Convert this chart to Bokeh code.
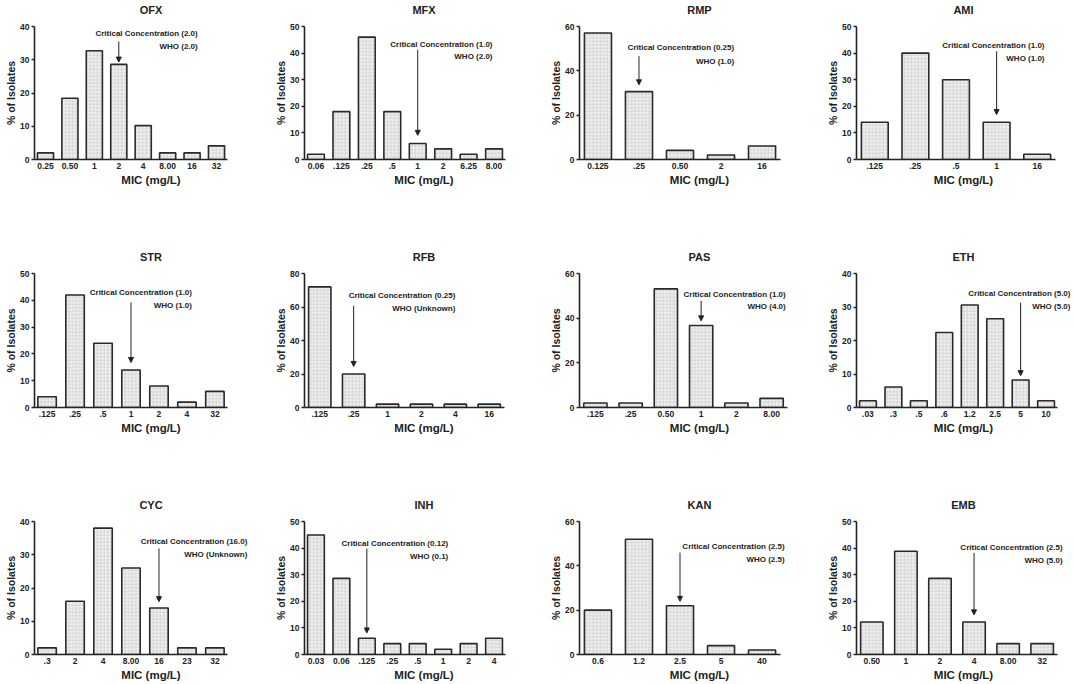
from bokeh.plotting import figure
from bokeh.layouts import column, row
from bokeh.models import Range1d, FixedTicker, Label, Arrow, NormalHead, LinearAxis
from bokeh.embed import file_html
from bokeh.resources import INLINE

# ---------------- data ----------------
ofx_mic = ["0.25", "0.50", "1", "2", "4", "8.00", "16", "32"]
ofx_pct = [2.0, 18.4, 32.7, 28.6, 10.2, 2.0, 2.0, 4.1]
mfx_mic = ["0.06", ".125", ".25", ".5", "1", "2", "6.25", "8.00"]
mfx_pct = [2.0, 18.0, 46.0, 18.0, 6.0, 4.0, 2.0, 4.0]
rmp_mic = ["0.125", ".25", "0.50", "2", "16"]
rmp_pct = [57.1, 30.6, 4.1, 2.0, 6.1]
ami_mic = [".125", ".25", ".5", "1", "16"]
ami_pct = [14.0, 40.0, 30.0, 14.0, 2.0]
str_mic = [".125", ".25", ".5", "1", "2", "4", "32"]
str_pct = [4.0, 42.0, 24.0, 14.0, 8.0, 2.0, 6.0]
rfb_mic = [".125", ".25", "1", "2", "4", "16"]
rfb_pct = [72.0, 20.0, 2.0, 2.0, 2.0, 2.0]
pas_mic = [".125", ".25", "0.50", "1", "2", "8.00"]
pas_pct = [2.0, 2.0, 53.1, 36.7, 2.0, 4.1]
eth_mic = [".03", ".3", ".5", ".6", "1.2", "2.5", "5", "10"]
eth_pct = [2.0, 6.1, 2.0, 22.4, 30.6, 26.5, 8.2, 2.0]
cyc_mic = [".3", "2", "4", "8.00", "16", "23", "32"]
cyc_pct = [2.0, 16.0, 38.0, 26.0, 14.0, 2.0, 2.0]
inh_mic = ["0.03", "0.06", ".125", ".25", ".5", "1", "2", "4"]
inh_pct = [44.9, 28.6, 6.1, 4.1, 4.1, 2.0, 4.1, 6.1]
kan_mic = ["0.6", "1.2", "2.5", "5", "40"]
kan_pct = [20.0, 52.0, 22.0, 4.0, 2.0]
emb_mic = ["0.50", "1", "2", "4", "8.00", "32"]
emb_pct = [12.2, 38.8, 28.6, 12.2, 4.1, 4.1]

drugs = ["OFX", "MFX", "RMP", "AMI", "STR", "RFB", "PAS", "ETH", "CYC", "INH", "KAN", "EMB"]
mics = [ofx_mic, mfx_mic, rmp_mic, ami_mic, str_mic, rfb_mic, pas_mic, eth_mic,
        cyc_mic, inh_mic, kan_mic, emb_mic]
pcts = [ofx_pct, mfx_pct, rmp_pct, ami_pct, str_pct, rfb_pct, pas_pct, eth_pct,
        cyc_pct, inh_pct, kan_pct, emb_pct]
critical = ["2.0", "1.0", "0.25", "1.0", "1.0", "0.25", "1.0", "5.0", "16.0", "0.12", "2.5", "2.5"]
who = ["2.0", "2.0", "1.0", "1.0", "1.0", "Unknown", "4.0", "5.0", "Unknown", "0.1", "2.5", "5.0"]
critical_bar = [3, 4, 1, 3, 3, 1, 3, 6, 4, 2, 2, 3]
y_max = [40, 50, 60, 50, 50, 80, 60, 40, 40, 50, 60, 50]
y_step = [10, 10, 20, 10, 10, 20, 20, 10, 10, 10, 20, 10]

# ---------------- layout / styling (positions, not data) ----------------
# (text right x, critical-text y, WHO-text y, arrow start y, arrow tip y) in data units
annot_pos = [
    (6.23, 37.8, 34.0, 35.5, 29.3),
    (6.94, 43.2, 38.8, 41.3, 9.1),
    (3.32, 50.4, 44.1, 46.6, 33.7),
    (4.18, 42.9, 37.9, 40.7, 16.9),
    (5.18, 42.9, 38.2, 39.2, 16.8),
    (4.00, 67.1, 59.1, 60.7, 24.5),
    (5.40, 50.8, 45.1, 47.8, 38.8),
    (7.96, 33.9, 30.1, 31.3, 9.5),
    (7.16, 34.0, 30.1, 31.9, 15.9),
    (5.20, 41.9, 36.9, 39.8, 8.1),
    (4.55, 48.5, 42.8, 46.0, 24.0),
    (5.60, 40.2, 35.2, 38.2, 14.9),
]
# visible x-axis length (px) per panel
axis_len = [193, 201, 201, 199,
            193, 200, 208, 201,
            193, 201, 201, 201]
col_width = [269, 276, 276, 251]
col_left = [34, 35, 34, 35]
col_right = 2
row_height = [200, 245, 238]
row_top = [25, 73, 76]
row_bottom = [41, 38, 28]

FONT = "Liberation Sans"
INK = "#222222"


def make_panel(i):
    r, c = divmod(i, 4)
    n = len(mics[i])
    frame_w = col_width[c] - col_left[c] - col_right
    step = axis_len[i] / (n - 0.1)
    x0 = -0.45
    x1 = x0 + frame_w / step
    p = figure(width=col_width[c], height=row_height[r],
               min_border_left=col_left[c], min_border_right=col_right,
               min_border_top=row_top[r], min_border_bottom=row_bottom[r],
               x_range=Range1d(x0, x1), y_range=Range1d(0, y_max[i]),
               output_backend="svg", toolbar_location=None)
    p.outline_line_color = None
    p.xgrid.visible = False
    p.ygrid.visible = False
    p.background_fill_color = "white"
    p.border_fill_color = "white"

    xs = list(range(n))
    p.vbar(x=xs, top=pcts[i], width=0.66, bottom=0,
           fill_color="#f0f0f0", line_color="#2a2a2a", line_width=1.6,
           hatch_pattern="+", hatch_color="#c0c0c0", hatch_scale=3.5, hatch_weight=0.5)

    bounds = (x0, n - 0.55)
    xa = p.xaxis[0]
    xa.bounds = bounds
    xa.ticker = FixedTicker(ticks=xs)
    xa.major_label_overrides = {k: lab for k, lab in enumerate(mics[i])}
    xa.axis_label = "MIC (mg/L)"
    xa.major_tick_out = 0
    xa.major_tick_in = 0
    xa.minor_tick_out = 0
    xa.minor_tick_in = 0
    xa.major_label_standoff = 3
    xa.axis_label_standoff = 2

    ya = p.yaxis[0]
    ya.ticker = FixedTicker(ticks=list(range(0, y_max[i] + 1, y_step[i])))
    ya.axis_label = "% of Isolates"
    ya.major_tick_out = 3
    ya.major_tick_in = 0
    ya.minor_tick_out = 0
    ya.minor_tick_in = 0
    ya.major_label_standoff = 2
    ya.axis_label_standoff = 0

    for ax in (xa, ya):
        ax.axis_line_color = INK
        ax.axis_line_width = 1.6
        ax.major_tick_line_color = INK
        ax.major_tick_line_width = 1.5
        ax.major_label_text_font = FONT
        ax.major_label_text_font_style = "bold"
        ax.major_label_text_font_size = "8.5px"
        ax.major_label_text_color = INK
        ax.axis_label_text_font = FONT
        ax.axis_label_text_font_style = "bold"
        ax.axis_label_text_color = INK
    xa.axis_label_text_font_size = "11.5px"
    ya.axis_label_text_font_size = "10.5px"

    # panel title as the label of a bare axis above, centred on the visible axis
    ta = LinearAxis(ticker=FixedTicker(ticks=[]), axis_label=drugs[i], bounds=bounds)
    ta.axis_line_color = None
    ta.major_tick_line_color = None
    ta.minor_tick_line_color = None
    ta.major_tick_out = 0
    ta.major_tick_in = 0
    ta.minor_tick_out = 0
    ta.minor_tick_in = 0
    ta.major_label_standoff = 0
    ta.axis_label_standoff = 11
    ta.axis_label_text_font = FONT
    ta.axis_label_text_font_size = "11px"
    ta.axis_label_text_font_style = "bold"
    ta.axis_label_text_color = INK
    p.add_layout(ta, "above")

    tx, ty1, ty2, ay0, ay1 = annot_pos[i]
    for txt, ty in ((f"Critical Concentration ({critical[i]})", ty1), (f"WHO ({who[i]})", ty2)):
        p.add_layout(Label(x=tx, y=ty, text=txt, text_align="right", text_baseline="middle",
                           text_font=FONT, text_font_size="8px", text_font_style="bold",
                           text_color=INK))
    p.add_layout(Arrow(x_start=critical_bar[i], y_start=ay0, x_end=critical_bar[i], y_end=ay1,
                       line_color=INK, line_width=1,
                       end=NormalHead(size=5, fill_color=INK, line_color=INK, line_width=1)))
    return p


panels = [make_panel(i) for i in range(12)]
layout = column(row(*panels[0:4]), row(*panels[4:8]), row(*panels[8:12]))

open("out.html", "w").write(file_html(layout, INLINE))
